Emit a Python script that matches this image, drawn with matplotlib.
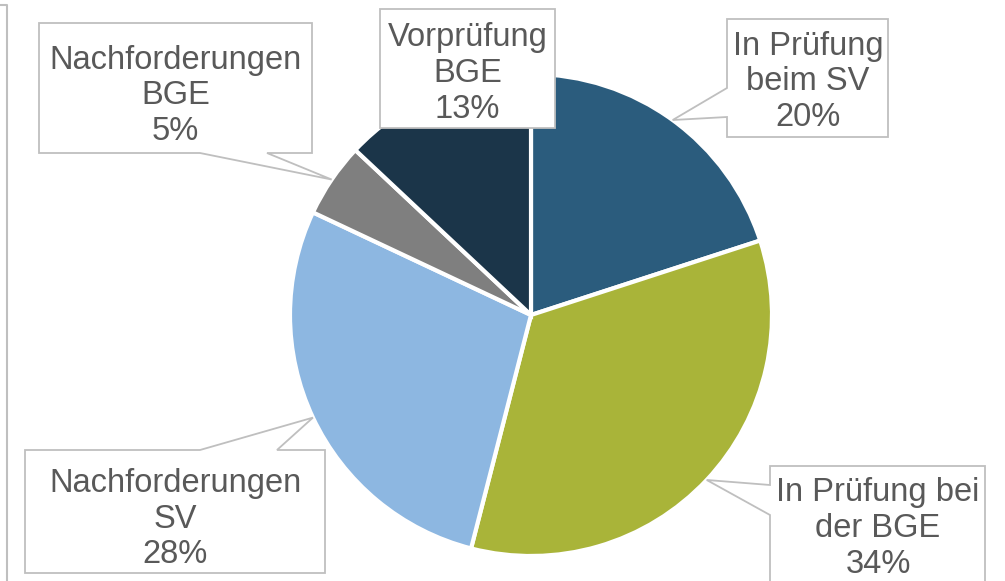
import matplotlib
matplotlib.use("Agg")
import matplotlib.pyplot as plt
from matplotlib.patches import Polygon
import numpy as np

# ---- data ----
categories = ["In Prüfung\nbeim SV", "In Prüfung bei\nder BGE", "Nachforderungen\nSV",
              "Nachforderungen\nBGE", "Vorprüfung\nBGE"]
values = [20, 34, 28, 5, 13]
colors = ["#2B5C7D", "#A9B439", "#8DB7E1", "#7F7F7F", "#1B3549"]

W, H = 1005, 581
CX, CY, R = 531, 315, 241  # pie centre / radius in pixels

plt.rcParams['font.family'] = ['Liberation Sans', 'DejaVu Sans']
fig = plt.figure(figsize=(W / 100, H / 100), dpi=100)
ax = fig.add_axes([0, 0, 1, 1])
ax.pie(values, colors=colors, startangle=90, counterclock=False, radius=1,
       center=(0, 0), wedgeprops=dict(edgecolor="white", linewidth=3))
ax.set_xlim(-CX / R, (W - CX) / R)
ax.set_ylim(-(H - CY) / R, CY / R)
ax.set_aspect("equal")
ax.axis("off")


def px(x, y):
    return ((x - CX) / R, (CY - y) / R)


# tips at slice mid-angles on the rim
total = sum(values)
cum = np.cumsum(values)
mids = 90 - 360 * (cum - np.array(values) / 2) / total
tips = [(np.cos(np.radians(a)), np.sin(np.radians(a))) for a in mids]

# box layout: (left, top, right, bottom) px, pointer side, base (a, b) px along side,
# text centre (x, y) px
boxes = [
    ((727, 19, 888, 137), "left", (88, 117), (808, 82)),
    ((770, 466, 985, 600), "left", (485, 515), (878, 528.5)),
    ((25, 450, 325, 573), "top", (200, 277), (175, 519)),
    ((39, 23, 312, 153), "bottom", (200, 267), (175.5, 96)),
    ((380, 9, 555, 128), None, None, (467.5, 73.5)),
]

txt_col = "#595959"
edge_col = "#BFBFBF"
for i, (cat, v) in enumerate(zip(categories, values)):
    (l, t, r, b), side, base, tc = boxes[i]
    tip = tips[i]
    if side is None:
        pts = [px(l, t), px(r, t), px(r, b), px(l, b)]
    elif side == "left":
        pts = [px(l, t), px(r, t), px(r, b), px(l, b), px(l, base[1]), tip, px(l, base[0])]
    elif side == "top":
        pts = [px(l, t), px(base[0], t), tip, px(base[1], t), px(r, t), px(r, b), px(l, b)]
    else:  # bottom
        pts = [px(l, t), px(r, t), px(r, b), px(base[1], b), tip, px(base[0], b), px(l, b)]
    ax.add_patch(Polygon(pts, closed=True, facecolor="white", edgecolor=edge_col,
                         linewidth=1.3, zorder=5, clip_on=False))
    cx, cy = px(*tc)
    ax.text(cx, cy, f"{cat}\n{v}%", ha="center", va="center", fontsize=23.5,
            color=txt_col, linespacing=1.2, zorder=6)

# left border line
ax.plot([px(0, 5)[0], px(6.5, 5)[0], px(6.5, 581)[0]],
        [px(0, 5)[1], px(6.5, 5)[1], px(6.5, 581)[1]],
        color="#BFBFBF", lw=1.5, clip_on=False)

fig.savefig("out.png", dpi=100)
